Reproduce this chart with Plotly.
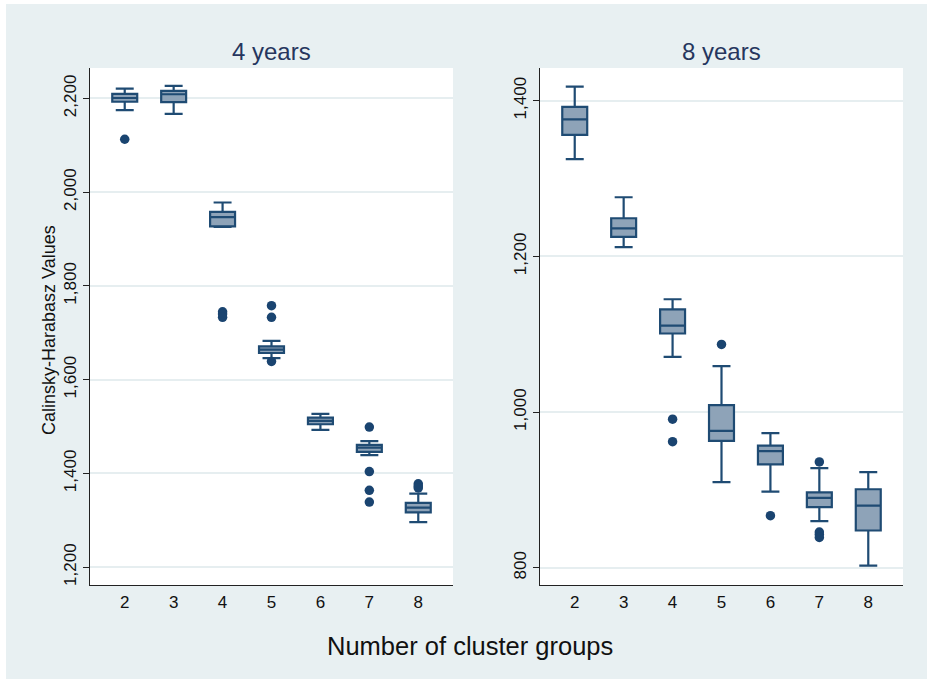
import plotly.graph_objects as go

# Number of cluster groups on the x axis
clusters = [2, 3, 4, 5, 6, 7, 8]

# 4-year panel: box statistics per cluster count
y4_lower = [2175, 2167, 1926, 1646, 1493, 1439, 1296]
y4_q1 = [2193, 2192, 1927, 1657, 1505, 1446, 1317]
y4_median = [2201, 2209, 1947, 1664, 1512, 1455, 1327]
y4_q3 = [2210, 2216, 1958, 1671, 1519, 1461, 1337]
y4_upper = [2221, 2227, 1978, 1683, 1527, 1469, 1357]
y4_out_x = [2, 4, 4, 4, 5, 5, 5, 7, 7, 7, 7, 8, 8, 8]
y4_out_y = [2113, 1745, 1740, 1733, 1758, 1733, 1639, 1499, 1404, 1364, 1339, 1378, 1373, 1369]

# 8-year panel: box statistics per cluster count
y8_lower = [1325, 1212, 1071, 910, 898, 860, 803]
y8_q1 = [1356, 1225, 1101, 963, 933, 878, 848]
y8_median = [1376, 1236, 1111, 976, 950, 890, 880]
y8_q3 = [1392, 1249, 1132, 1009, 957, 897, 901]
y8_upper = [1418, 1276, 1145, 1059, 973, 928, 923]
y8_out_x = [4, 4, 5, 6, 7, 7, 7, 7]
y8_out_y = [991, 962, 1087, 867, 936, 846, 843, 839]

panel_titles = ["4 years", "8 years"]
x_title = "Number of cluster groups"
y_title = "Calinsky-Harabasz Values"

W, H = 927, 679
LINE = "#1f4b73"
FILL = "#8ea3b8"
DOT = "#1a4470"
BG = "#e8f0f2"
GRID = "#e6eef0"
FONT = "Liberation Sans, Arial, sans-serif"


def px_x(p):
    return p / W


def px_y(p):
    return 1 - p / H


fig = go.Figure()

panels = [
    (y4_lower, y4_q1, y4_median, y4_q3, y4_upper, y4_out_x, y4_out_y, "x", "y"),
    (y8_lower, y8_q1, y8_median, y8_q3, y8_upper, y8_out_x, y8_out_y, "x2", "y2"),
]
for lo, q1, med, q3, hi, ox, oy, xa, ya in panels:
    fig.add_trace(go.Box(
        x=clusters, q1=q1, median=med, q3=q3, lowerfence=lo, upperfence=hi,
        width=0.51, whiskerwidth=0.72,
        fillcolor=FILL, line=dict(color=LINE, width=2.2),
        boxpoints=False, showlegend=False, hoverinfo="skip",
        xaxis=xa, yaxis=ya,
    ))
    fig.add_trace(go.Scatter(
        x=ox, y=oy, mode="markers",
        marker=dict(color=DOT, size=9.5, line=dict(width=0)),
        showlegend=False, hoverinfo="skip", xaxis=xa, yaxis=ya,
    ))

xaxis_common = dict(
    range=[1.29, 8.71], tickvals=clusters, ticks="", showgrid=False,
    showline=True, linecolor="#222222", linewidth=1.3, zeroline=False,
    tickfont=dict(family=FONT, size=17, color="#111111"),
    ticklabelstandoff=1,
)
yaxis_common = dict(
    dtick=200, tickformat=",d", ticks="outside", ticklen=6, tickwidth=1.2,
    tickcolor="#222222", tickangle=-90, showgrid=True, gridcolor=GRID,
    gridwidth=1.5, showline=True, linecolor="#222222", linewidth=1.3,
    zeroline=False, tickfont=dict(family=FONT, size=17, color="#111111"),
)

y_dom = [px_y(585), px_y(68)]
fig.update_layout(
    width=W, height=H,
    margin=dict(l=0, r=0, t=0, b=0),
    paper_bgcolor=BG, plot_bgcolor="white",
    xaxis=dict(domain=[px_x(90), px_x(453)], anchor="y", **xaxis_common),
    yaxis=dict(domain=y_dom, anchor="x", range=[1162, 2265], tick0=1200, **yaxis_common),
    xaxis2=dict(domain=[px_x(540), px_x(903)], anchor="y2", **xaxis_common),
    yaxis2=dict(domain=y_dom, anchor="x2", range=[778, 1442], tick0=800, **yaxis_common),
    shapes=[
        dict(type="rect", xref="paper", yref="paper", x0=-0.01, x1=px_x(6),
             y0=-0.01, y1=1.01, fillcolor="white", line=dict(width=0), layer="below"),
        dict(type="rect", xref="paper", yref="paper", x0=-0.01, x1=1.01,
             y0=px_y(4), y1=1.01, fillcolor="white", line=dict(width=0), layer="below"),
    ],
    annotations=[
        dict(text=panel_titles[0], xref="paper", yref="paper", x=px_x(271.5), y=px_y(52),
             xanchor="center", yanchor="middle", showarrow=False,
             font=dict(family=FONT, size=24, color="#26365e")),
        dict(text=panel_titles[1], xref="paper", yref="paper", x=px_x(721.5), y=px_y(52),
             xanchor="center", yanchor="middle", showarrow=False,
             font=dict(family=FONT, size=24, color="#26365e")),
        dict(text=x_title, xref="paper", yref="paper", x=px_x(470.5), y=px_y(646),
             xanchor="center", yanchor="middle", showarrow=False,
             font=dict(family=FONT, size=25.5, color="#111111")),
        dict(text=y_title, xref="paper", yref="paper", x=px_x(49), y=px_y(330),
             xanchor="center", yanchor="middle", showarrow=False, textangle=-90,
             font=dict(family=FONT, size=18, color="#111111")),
    ],
)

fig.write_html("out.html")
